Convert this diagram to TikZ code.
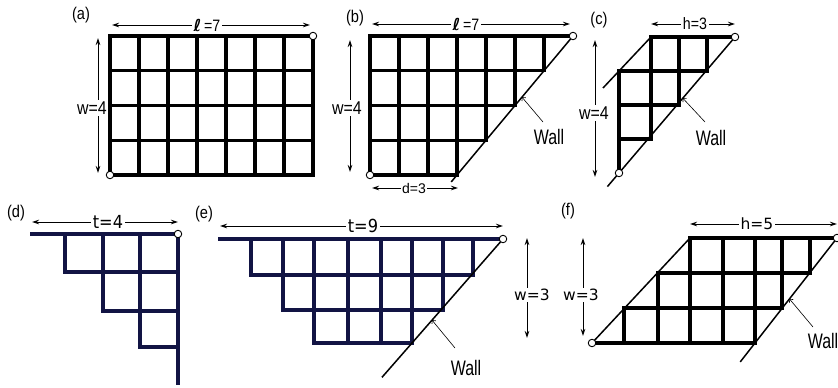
\documentclass[tikz,border=0pt]{standalone}
\usepackage{fontspec}
\setmainfont{Liberation Sans}
\newfontfamily\narrowf[FakeStretch=0.86]{Liberation Sans}
\newfontfamily\wallf[FakeStretch=0.76]{Liberation Sans}
\newfontfamily\dejaf[FakeStretch=0.9]{DejaVu Sans}
\newfontfamily\dejan{DejaVu Sans}
\newfontfamily\ellf{DejaVu Sans}
\usetikzlibrary{arrows.meta,calc}
\definecolor{navy}{RGB}{18,20,68}
\begin{document}
\begin{tikzpicture}[x=1pt,y=-1pt,
  gridline/.style={line width=3.2pt,line cap=rect},
  navyline/.style={gridline,draw=navy},
  wallline/.style={line width=1.5pt},
  dim/.style={line width=1pt,{Stealth[length=7pt,width=4.5pt]}-{Stealth[length=7pt,width=4.5pt]}},
  pointer/.style={line width=0.6pt,-{Straight Barb[length=2.5pt,width=5pt]}},
  dot/.style={circle,draw,fill=white,inner sep=0pt,minimum size=7.5pt,line width=0.9pt},
  lab/.style={font=\narrowf\fontsize{18.5}{21}\selectfont,inner sep=1.5pt,fill=white},
  elllab/.style={font=\narrowf\fontsize{16.5}{19}\selectfont,inner sep=1.5pt,fill=white},
  smalllab/.style={font=\fontsize{14}{16}\selectfont,inner sep=1.5pt,fill=white},
  panellab/.style={font=\narrowf\fontsize{17}{20}\selectfont,inner sep=0pt},
  walllab/.style={font=\wallf\fontsize{21}{24}\selectfont,inner sep=0pt},
  dlab/.style={font=\dejaf\fontsize{18}{21}\selectfont,inner sep=1.5pt,fill=white},
  dlabs/.style={font=\dejan\fontsize{15.5}{18}\selectfont,inner sep=1.5pt,fill=white},
]
\useasboundingbox[fill=white] (0,0) rectangle (838,388);

%% ---------------- (a) ----------------
\node[panellab] (la) at (81,15) {(a)};
\foreach \i in {0,...,7} \draw[gridline] ({110+29*\i},36) -- ({110+29*\i},175);
\foreach \j in {0,...,4} \draw[gridline] (110,{36+34.75*\j}) -- (313,{36+34.75*\j});
\node[dot] (a0) at (110,175) {};
\node[dot] (a1) at (313,36) {};
\coordinate (aL1) at (112,25); \coordinate (aL2) at (310,25);
\draw[dim] (aL1) -- (aL2);
\node[elllab] (aLt) at (207,25) {{\ellf\bfseries\itshape ℓ}\,=7};
\coordinate (aW1) at (98,38); \coordinate (aW2) at (98,173);
\draw[dim] (aW1) -- (aW2);
\node[lab] (aWt) at (92,108) {w=4};

%% ---------------- (b) ----------------
\node[panellab] (lb) at (355,18) {(b)};
\foreach \j/\e in {0/7,1/6,2/5,3/4,4/3}
  \draw[gridline] (370,{36+34.75*\j}) -- ({370+29*\e},{36+34.75*\j});
\foreach \i/\e in {0/4,1/4,2/4,3/4,4/3,5/2,6/1}
  \draw[gridline] ({370+29*\i},36) -- ({370+29*\i},{36+34.75*\e});
\coordinate (bw1) at (573,36); \coordinate (bw2) at (457,175);
\draw[wallline] (bw1) -- ($(bw1)!1.05!(bw2)$);
\node[dot] (b0) at (370,175) {};
\node[dot] (b1) at (573,36) {};
\coordinate (bL1) at (372,24); \coordinate (bL2) at (570,24);
\draw[dim] (bL1) -- (bL2);
\node[elllab] (bLt) at (466,24) {{\ellf\bfseries\itshape ℓ}\,=7};
\coordinate (bW1) at (350,40); \coordinate (bW2) at (350,172);
\draw[dim] (bW1) -- (bW2);
\node[lab] (bWt) at (347,108) {w=4};
\coordinate (bD1) at (372,188); \coordinate (bD2) at (458,188);
\draw[dim] (bD1) -- (bD2);
\node[smalllab] (bDt) at (414,188) {d=3};
\node[walllab] (bwl) at (549,137) {Wall};
\coordinate (bps) at (543,122);
\coordinate (bpe) at ($(bw1)!0.44!(bw2)$);
\draw[pointer] (bps) -- (bpe);

%% ---------------- (c) ----------------
\node[panellab] (lc) at (599,20) {(c)};
\draw[gridline] (651,37) -- (735,37);
\draw[gridline] (619,71) -- (707,71);
\draw[gridline] (619,105) -- (679,105);
\draw[gridline] (619,139) -- (651,139);
\draw[gridline] (619,71) -- (619,173);
\draw[gridline] (651,37) -- (651,139);
\draw[gridline] (679,37) -- (679,105);
\draw[gridline] (707,37) -- (707,71);
\coordinate (cl1) at (651,37); \coordinate (cl2) at (619,71);
\draw[wallline] (cl1) -- ($(cl1)!1.5!(cl2)$);
\coordinate (cw1) at (735,37); \coordinate (cw2) at (619,173);
\draw[wallline] (cw1) -- ($(cw1)!1.1!(cw2)$);
\node[dot] (c0) at (619,173) {};
\node[dot] (c1) at (735,37) {};
\coordinate (cH1) at (651,24); \coordinate (cH2) at (735,24);
\draw[dim] (cH1) -- (cH2);
\node[elllab] (cHt) at (695,24) {h=3};
\coordinate (cW1) at (595,40); \coordinate (cW2) at (595,177);
\draw[dim] (cW1) -- (cW2);
\node[lab] (cWt) at (594,113) {w=4};
\node[walllab] (cwl) at (711,138) {Wall};
\coordinate (cps) at (705,122);
\coordinate (cpe) at ($(cw1)!0.45!(cw2)$);
\draw[pointer] (cps) -- (cpe);

%% ---------------- (d) ----------------
\node[panellab] (ld) at (16,213) {(d)};
\draw[navyline] (32,234) -- (178,234);
\draw[navyline] (178,234) -- (178,383);
\draw[navyline] (65,234) -- (65,272) -- (178,272);
\draw[navyline] (103,234) -- (103,311) -- (178,311);
\draw[navyline] (140,234) -- (140,347) -- (178,347);
\node[dot] (d1) at (178,234) {};
\coordinate (dT1) at (32,222); \coordinate (dT2) at (178,222);
\draw[dim] (dT1) -- (dT2);
\node[dlab] (dTt) at (108,222) {t=4};

%% ---------------- (e) ----------------
\node[panellab] (le) at (204,214) {(e)};
\draw[navyline] (220,239) -- (503,239);
\draw[navyline] (251,239) -- (251,275);
\draw[navyline] (283,239) -- (283,310);
\foreach \x in {314,348,381,412} \draw[navyline] (\x,239) -- (\x,343);
\draw[navyline] (443,239) -- (443,310);
\draw[navyline] (473,239) -- (473,275);
\draw[navyline] (251,275) -- (473,275);
\draw[navyline] (283,310) -- (443,310);
\draw[navyline] (314,343) -- (412,343);
\coordinate (ew1) at (503,239); \coordinate (ew2) at (412,343);
\draw[wallline] (ew1) -- ($(ew1)!1.33!(ew2)$);
\node[dot] (e1) at (503,239) {};
\coordinate (eT1) at (220,226); \coordinate (eT2) at (503,226);
\draw[dim] (eT1) -- (eT2);
\node[dlab] (eTt) at (363,226) {t=9};
\coordinate (eW1) at (527,238); \coordinate (eW2) at (527,338);
\draw[dim] (eW1) -- (eW2);
\node[dlabs] (eWt) at (532,295) {w=3};
\node[walllab] (ewl) at (466,368) {Wall};
\coordinate (eps) at (455,348);
\coordinate (epe) at ($(ew1)!0.78!(ew2)$);
\draw[pointer] (eps) -- (epe);

%% ---------------- (f) ----------------
\node[panellab] (lf) at (568,211) {(f)};
\draw[gridline] (690,238) -- (837,238);
\draw[gridline] (658,273) -- (810,273);
\draw[gridline] (624,308) -- (782,308);
\draw[gridline] (592,343) -- (755,343);
\draw[gridline] (624,308) -- (624,343);
\draw[gridline] (658,273) -- (658,343);
\draw[gridline] (690,238) -- (690,343);
\draw[gridline] (723,238) -- (723,343);
\draw[gridline] (755,238) -- (755,343);
\draw[gridline] (782,238) -- (782,308);
\draw[gridline] (810,238) -- (810,273);
\coordinate (fl1) at (592,343); \coordinate (fl2) at (690,238);
\draw[wallline] (fl1) -- (fl2);
\coordinate (fw1) at (837,238); \coordinate (fw2) at (755,343);
\draw[wallline] (fw1) -- ($(fw1)!1.18!(fw2)$);
\node[dot] (f0) at (592,343) {};
\node[dot] (f1) at (837,238) {};
\coordinate (fH1) at (690,224); \coordinate (fH2) at (837,224);
\draw[dim] (fH1) -- (fH2);
\node[dlabs] (fHt) at (757,224) {h=5};
\coordinate (fW1) at (583,238); \coordinate (fW2) at (583,336);
\draw[dim] (fW1) -- (fW2);
\node[dlabs] (fWt) at (581,295) {w=3};
\node[walllab] (fwl) at (823,341) {Wall};
\coordinate (fps) at (813,327);
\coordinate (fpe) at ($(fw1)!0.58!(fw2)$);
\draw[pointer] (fps) -- (fpe);
\end{tikzpicture}
\end{document}
